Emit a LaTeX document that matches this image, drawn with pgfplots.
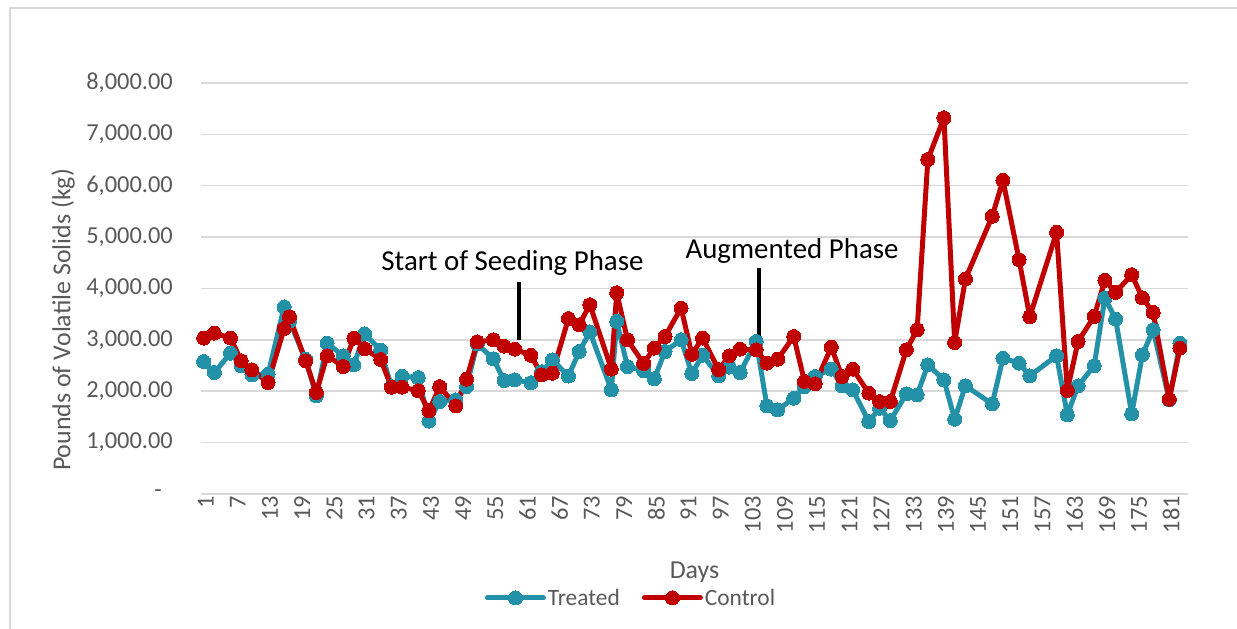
\documentclass[border=0pt]{standalone}
\usepackage{fontspec}
\setmainfont{Carlito}
\usepackage{pgfplots}
\pgfplotsset{compat=1.18}
\usepackage{pgfplotstable}
\definecolor{treat}{RGB}{35,145,168}
\definecolor{ctrl}{RGB}{192,0,0}
\definecolor{gridc}{RGB}{217,217,217}
\definecolor{labc}{RGB}{89,89,89}

\pgfplotstableread{
day T C
1 2579 3035
3 2365 3132
6 2742 3035
8 2495 2593
10 2320 2417
13 2330 2170
16 3640 3220
17 3360 3450
20 2620 2593
22 1910 1975
24 2937 2690
27 2690 2482
29 2515 3035
31 3115 2830
34 2800 2618
36 2090 2080
38 2290 2080
41 2265 2010
43 1420 1620
45 1800 2090
48 1830 1715
50 2092 2236
52 2920 2960
55 2630 3002
57 2210 2878
59 2222 2820
62 2165 2700
64 2380 2320
66 2612 2352
69 2295 3415
71 2774 3294
73 3154 3685
77 2027 2431
78 3360 3918
80 2480 3002
83 2400 2540
85 2245 2840
87 2774 3066
90 3002 3620
92 2345 2720
94 2700 3035
97 2300 2420
99 2470 2690
101 2365 2820
104 2969 2807
106 1715 2547
108 1637 2625
111 1865 3066
113 2092 2190
115 2287 2144
118 2431 2859
120 2105 2287
122 2027 2431
125 1409 1963
127 1670 1800
129 1429 1800
132 1949 2807
134 1930 3197
136 2515 6511
139 2222 7323
141 1456 2949
143 2105 4185
148 1754 5405
150 2645 6107
153 2547 4561
155 2300 3450
160 2690 5094
162 1540 2014
164 2105 2969
167 2495 3456
169 3815 4158
171 3405 3924
174 1559 4269
176 2710 3815
178 3197 3534
181 1832 1846
183 2937 2840
}\datatable

\begin{document}
\begin{tikzpicture}[x=1bp,y=1bp]
\useasboundingbox (0,0) rectangle (1237,629);
\draw[gridc, line width=1.5bp] (10,0) -- (10,621) -- (1237,621);
\begin{axis}[
  at={(201bp,135bp)}, anchor=south west,
  width=987bp, height=411bp, scale only axis,
  xmin=0.5, xmax=184.5, ymin=0, ymax=8000,
  axis line style={draw=none},
  major tick length=0pt,
  xtick={1,7,...,181},
  ytick={0,1000,...,8000},
  yticklabels={{-\kern11bp},{1,000.00},{2,000.00},{3,000.00},{4,000.00},{5,000.00},{6,000.00},{7,000.00},{8,000.00}},
  ymajorgrids,
  grid style={gridc, line width=1.5bp},
  /pgf/number format/assume math mode=true,
  xticklabel style={rotate=90, anchor=east, inner sep=2bp, yshift=-2bp, font=\fontsize{24.5}{25}\selectfont, text=labc},
  yticklabel style={anchor=east, inner sep=0pt, xshift=-28bp, font=\fontsize{24.5}{26}\selectfont, text=labc},
  xlabel={Days},
  xlabel style={at={(axis description cs:0.5,-0.19)}, anchor=center, font=\fontsize{26}{28}\selectfont, text=labc},
  ylabel={Pounds of Volatile Solids (kg)},
  ylabel style={at={(axis description cs:-0.1398,0.4234)}, anchor=center, rotate=0, font=\fontsize{26}{28}\selectfont, text=labc},
  legend columns=2,
  legend style={at={(axis description cs:0.4357,-0.253)}, anchor=center, draw=none, fill=none, inner sep=0pt,
    font=\fontsize{23.5}{25}\selectfont, text=labc,
    /tikz/every even column/.append style={column sep=20bp}},
  legend image code/.code={\draw[#1, mark repeat=2, mark phase=2] plot coordinates {(0bp,0bp) (28bp,0bp) (56bp,0bp)};},
]
\addplot[treat, line width=5bp, line join=round, line cap=round, mark=*, mark size=7bp, mark options={solid, fill=treat, line width=0pt}] table[x=day, y=T] \datatable;
\addlegendentry{Treated}
\addplot[ctrl, line width=5bp, line join=round, line cap=round, mark=*, mark size=7bp, mark options={solid, fill=ctrl, line width=0pt}] table[x=day, y=C] \datatable;
\addlegendentry{Control}
\addplot[black, line width=4.7bp, forget plot] coordinates {(59.78,4133) (59.78,3002)};
\addplot[black, line width=4.7bp, forget plot] coordinates {(104.53,4405) (104.53,2943)};
\node[anchor=base, font=\fontsize{29}{30}\selectfont, text=black] at (axis cs:58.57,4347) {Start of Seeding Phase};
\node[anchor=base, font=\fontsize{29}{30}\selectfont, text=black] at (axis cs:110.68,4581) {Augmented Phase};
\end{axis}
\end{tikzpicture}
\end{document}
